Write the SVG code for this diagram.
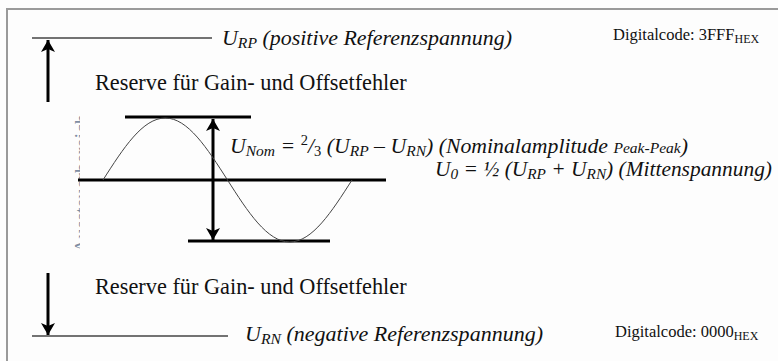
<svg xmlns="http://www.w3.org/2000/svg" width="778" height="361" viewBox="0 0 778 361">
<style>
  .frame { stroke: #9a9a9a; stroke-width: 2; fill: none; }
  .ref { stroke: #444; stroke-width: 1.3; fill: none; }
  .bar { stroke: #000; stroke-width: 3.2; fill: none; }
  .shaft { stroke: #000; stroke-width: 3; fill: none; }
  .sine { stroke: #444; stroke-width: 1; fill: none; }
  .reg { font-family: "Liberation Serif", "Times New Roman", serif; fill: #111; }
  .ital { font-family: "Liberation Serif", "Times New Roman", serif; font-style: italic; fill: #111; }
  .faint { font-family: "Liberation Serif", "Times New Roman", serif; fill: #7f8ea3; }
</style>
<defs>
  <marker id="ah" viewBox="0 0 12 14" refX="12" refY="7" markerWidth="12" markerHeight="14" markerUnits="userSpaceOnUse" orient="auto-start-reverse">
    <path d="M0,0 L12,7 L0,14 L3,7 Z" fill="#000"/>
  </marker>
  <clipPath id="clipV"><rect x="73" y="100" width="7" height="160"/></clipPath>
</defs>
<rect x="0" y="0" width="778" height="361" fill="#fdfdfd"/>
<g id="frame">
  <path class="frame" d="M7,361 L7,9 L778,9"/>
</g>
<g id="connectors">
  <line class="shaft" x1="48" y1="102" x2="48" y2="40" marker-end="url(#ah)"/>
  <line class="shaft" x1="48" y1="273" x2="48" y2="335" marker-end="url(#ah)"/>
  <line class="shaft" x1="213" y1="119" x2="213" y2="240" marker-start="url(#ah)" marker-end="url(#ah)"/>
</g>
<g id="top-reference">
  <line class="ref" x1="32" y1="38" x2="212" y2="38"/>
  <text class="ital" x="222" y="45" font-size="21" textLength="290" lengthAdjust="spacingAndGlyphs">U<tspan font-size="15" dy="3">RP</tspan><tspan dy="-3"> (positive Referenzspannung)</tspan></text>
</g>
<g id="top-code">
  <text class="reg" x="613" y="40" font-size="16.5">Digitalcode: 3FFF<tspan font-size="12" dy="3">HEX</tspan></text>
</g>
<g id="top-reserve">
  <text class="reg" x="95" y="90" font-size="22.3">Reserve für Gain- und Offsetfehler</text>
</g>
<g id="axis-label" clip-path="url(#clipV)">
  <text class="faint" font-size="20" transform="translate(88.5,253) rotate(-90)" x="0" y="0">Aussteuerbereich</text>
</g>
<g id="signal">
  <line class="bar" x1="125" y1="117" x2="251" y2="117"/>
  <line class="bar" x1="78" y1="180" x2="386" y2="180"/>
  <line class="bar" x1="188" y1="241" x2="330" y2="241"/>
  <path class="sine" d="M103,180 C123.3,148.24 142.7,118 165.25,118 C187.78,118 207.2,148.24 227.5,180 C247.8,211.76 267.22,242 289.75,242 C312.28,242 331.7,211.76 352,180"/>
</g>
<g id="nominal-label">
  <text class="ital" x="230" y="153" font-size="21" textLength="458" lengthAdjust="spacingAndGlyphs">U<tspan font-size="15" dy="3">Nom</tspan><tspan dy="-3"> = </tspan><tspan font-size="14" dy="-8" font-style="normal">2</tspan><tspan dy="8">/</tspan><tspan font-size="14" dy="3" font-style="normal">3</tspan><tspan dy="-3"> (U</tspan><tspan font-size="15" dy="3">RP</tspan><tspan dy="-3"> – U</tspan><tspan font-size="15" dy="3">RN</tspan><tspan dy="-3">) (Nominalamplitude </tspan><tspan font-size="15">Peak-Peak</tspan>)</text>
</g>
<g id="mid-label">
  <text class="ital" x="435" y="176" font-size="21" textLength="337" lengthAdjust="spacingAndGlyphs">U<tspan font-size="15" dy="3">0</tspan><tspan dy="-3"> = ½ (U</tspan><tspan font-size="15" dy="3">RP</tspan><tspan dy="-3"> + U</tspan><tspan font-size="15" dy="3">RN</tspan><tspan dy="-3">) (Mittenspannung)</tspan></text>
</g>
<g id="bottom-reserve">
  <text class="reg" x="95" y="294" font-size="22.3">Reserve für Gain- und Offsetfehler</text>
</g>
<g id="bottom-reference">
  <line class="ref" x1="32" y1="336" x2="228" y2="336"/>
  <text class="ital" x="245" y="341" font-size="21" textLength="298" lengthAdjust="spacingAndGlyphs">U<tspan font-size="15" dy="3">RN</tspan><tspan dy="-3"> (negative Referenzspannung)</tspan></text>
</g>
<g id="bottom-code">
  <text class="reg" x="615" y="337" font-size="16.5">Digitalcode: 0000<tspan font-size="12" dy="3">HEX</tspan></text>
</g>
</svg>
